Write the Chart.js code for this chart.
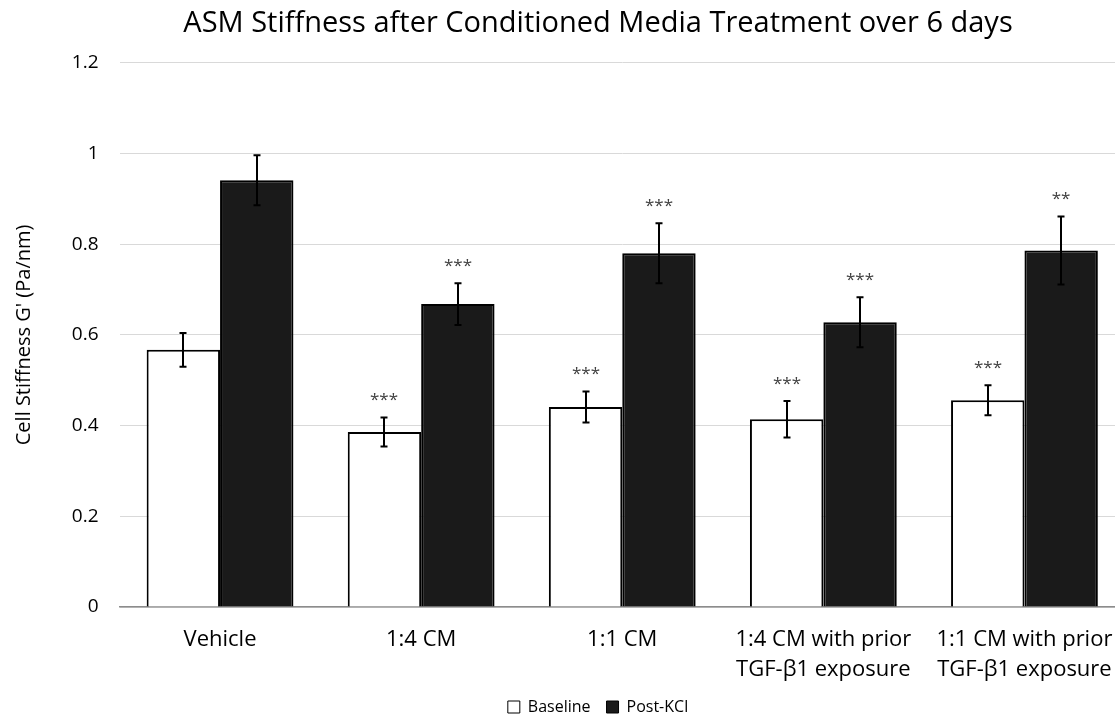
<!DOCTYPE html>
<html>
<head>
<meta charset="utf-8">
<script src="https://cdn.jsdelivr.net/npm/chart.js@4.4.1/dist/chart.umd.min.js"></script>
<style>
  html, body { margin: 0; padding: 0; background: #fff; overflow: hidden; }
  #wrap { width: 1196px; height: 717px; position: relative; }
</style>
</head>
<body>
<div id="wrap"><canvas id="chart" width="1196" height="717"></canvas></div>
<script>
// Treatment groups on the x axis
const categories = [
  "Vehicle",
  "1:4 CM",
  "1:1 CM",
  ["1:4 CM with prior", "TGF-\u03b21 exposure"],
  ["1:1 CM with prior", "TGF-\u03b21 exposure"]
];

// Mean cell stiffness G' (Pa/nm) and error (± SEM)
const baseline    = [0.567, 0.386, 0.441, 0.414, 0.456];
const baselineErr = [0.037, 0.032, 0.034, 0.040, 0.033];
const postKCl     = [0.941, 0.668, 0.780, 0.628, 0.786];
const postKClErr  = [0.055, 0.046, 0.066, 0.055, 0.075];

// Significance markers vs. vehicle
const baselineSig = ["", "***", "***", "***", "***"];
const postKClSig  = ["", "***", "***", "***", "**"];

// Y axis ticks
const yTicks = [0, 0.2, 0.4, 0.6, 0.8, 1, 1.2];

const FONT = "'Open Sans', 'Noto Sans', sans-serif";
const errors = [baselineErr, postKClErr];
const sigs = [baselineSig, postKClSig];

// Draws symmetric error bars and significance stars above each bar
const errorBarPlugin = {
  id: 'errorBars',
  afterDatasetsDraw(chart) {
    const ctx = chart.ctx;
    const yScale = chart.scales.y;
    chart.data.datasets.forEach((ds, di) => {
      const meta = chart.getDatasetMeta(di);
      meta.data.forEach((bar, i) => {
        const v = ds.data[i];
        const e = errors[di][i];
        const top = yScale.getPixelForValue(v + e);
        const bot = yScale.getPixelForValue(v - e);
        const x = Math.round(bar.x);
        ctx.save();
        ctx.strokeStyle = '#000';
        ctx.lineWidth = 2;
        ctx.beginPath();
        ctx.moveTo(x, top); ctx.lineTo(x, bot);
        ctx.moveTo(x - 3.5, top); ctx.lineTo(x + 3.5, top);
        ctx.moveTo(x - 3.5, bot); ctx.lineTo(x + 3.5, bot);
        ctx.stroke();
        const s = sigs[di][i];
        if (s) {
          ctx.fillStyle = '#404040';
          ctx.font = '17px ' + FONT;
          ctx.textAlign = 'center';
          ctx.textBaseline = 'middle';
          ctx.fillText(s, x, top - 17);
        }
        ctx.restore();
      });
    });
  }
};

new Chart(document.getElementById('chart'), {
  type: 'bar',
  data: {
    labels: categories,
    datasets: [
      {
        label: 'Baseline',
        data: baseline,
        backgroundColor: '#ffffff',
        borderColor: '#000000',
        borderWidth: 2,
        borderSkipped: 'bottom'
      },
      {
        label: 'Post-KCl',
        data: postKCl,
        backgroundColor: '#1a1a1a',
        borderColor: '#000000',
        borderWidth: 2,
        borderSkipped: 'bottom'
      }
    ]
  },
  plugins: [errorBarPlugin],
  options: {
    responsive: false,
    animation: false,
    devicePixelRatio: 1,
    layout: { padding: { left: 0, right: 0, top: 6, bottom: -8 } },
    datasets: {
      bar: { categoryPercentage: 0.73, barPercentage: 1.0 }
    },
    plugins: {
      title: {
        display: true,
        text: 'ASM Stiffness after Conditioned Media Treatment over 6 days',
        color: '#000000',
        font: { family: FONT, size: 29, weight: 'normal', lineHeight: 1.2 },
        padding: { top: 0, bottom: 22 }
      },
      legend: {
        position: 'bottom',
        labels: {
          color: '#000000',
          font: { family: FONT, size: 16 },
          boxWidth: 12,
          boxHeight: 12,
          padding: 16,
          generateLabels(chart) {
            return chart.data.datasets.map((ds, i) => ({
              text: ds.label,
              fillStyle: ds.backgroundColor,
              strokeStyle: '#000',
              lineWidth: 1,
              datasetIndex: i
            }));
          }
        }
      },
      tooltip: { enabled: false }
    },
    scales: {
      x: {
        grid: { display: false, drawTicks: false },
        border: { display: true, color: '#8c8c8c', width: 1.5 },
        afterFit(axis) { axis.height = 76; },
        ticks: {
          color: '#000000',
          font: { family: FONT, size: 22, lineHeight: 1.36 },
          padding: 17.5,
          maxRotation: 0,
          autoSkip: false
        }
      },
      y: {
        min: 0,
        max: 1.2,
        afterBuildTicks(axis) { axis.ticks = yTicks.map(v => ({ value: v })); },
        afterFit(axis) { axis.width = 119.5; },
        grid: { color: '#d9d9d9', drawTicks: false, lineWidth: 1 },
        border: { display: false },
        title: {
          display: true,
          text: "Cell Stiffness G' (Pa/nm)",
          color: '#000000',
          font: { family: FONT, size: 20, lineHeight: 1.2 },
          padding: { top: 12, bottom: 0 }
        },
        ticks: {
          color: '#000000',
          font: { family: FONT, size: 19 },
          padding: 21,
          callback: v => String(v)
        }
      },
      // empty right-hand margin so the plot runs past the visible edge
      yRight: {
        position: 'right',
        display: true,
        grid: { display: false, drawTicks: false },
        border: { display: false },
        ticks: { display: false },
        afterFit(axis) { axis.width = 71; }
      }
    }
  }
});
</script>
</body>
</html>
